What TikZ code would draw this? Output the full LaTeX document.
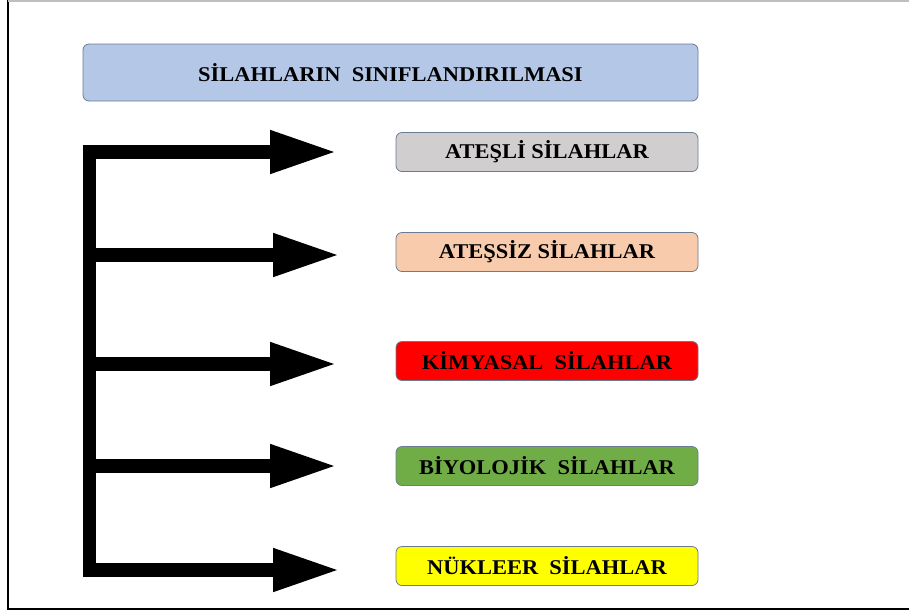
\documentclass[tikz,border=0pt]{standalone}
\usepackage{fontspec}
\setmainfont{Liberation Serif}
\newfontfamily\wfont[FakeStretch=1.07]{Liberation Serif}
\usepackage{tikz}
\usetikzlibrary{arrows.meta,positioning}
\definecolor{titleblue}{HTML}{B4C7E7}
\definecolor{boxline}{HTML}{6B7B92}
\definecolor{firegray}{HTML}{D0CECE}
\definecolor{peach}{HTML}{F8CBAD}
\definecolor{chemred}{HTML}{FF0000}
\definecolor{biogreen}{HTML}{70AD47}
\definecolor{nucyellow}{HTML}{FFFF00}
\newcommand{\Wlabel}[1]{\wfont\fontsize{21}{25}\selectfont\bfseries #1}
\tikzset{
  wbox/.style={rectangle,rounded corners=6pt,draw=boxline,line width=0.8pt,
    minimum width=302pt,minimum height=39pt,inner sep=0pt,text=black},
  titlebox/.style={wbox,fill=titleblue,minimum width=615pt,minimum height=57pt},
  stem/.style={line width=13.5pt,line join=miter,black},
  bighead/.style={-{Triangle[length=67pt,width=40pt]}}
}

\begin{document}
\begin{tikzpicture}[x=1pt,y=-1pt]
\useasboundingbox (0,0) rectangle (909,614);
% frame
\draw[black,line width=2pt] (8,0) -- (8,609) -- (909,609);
\draw[black!25,line width=1.5pt] (8,0.75) -- (909,0.75);
%
\node (title) [titlebox] at (390.5,72.5) {\Wlabel{S\.ILAHLARIN\ \ SINIFLANDIRILMASI}};
\node (w1) [wbox,fill=firegray] at (547,152) {\Wlabel{ATE\c{S}L\.I S\.ILAHLAR}};
\node (w2) [wbox,fill=peach] at (547,252) {\Wlabel{ATE\c{S}S\.IZ S\.ILAHLAR}};
\node (w3) [wbox,fill=chemred] at (547,361) {\Wlabel{K\.IMYASAL\ \ S\.ILAHLAR}};
\node (w4) [wbox,fill=biogreen] at (547,466) {\Wlabel{B\.IYOLOJ\.IK\ \ S\.ILAHLAR}};
\node (w5) [wbox,fill=nucyellow] at (547,566) {\Wlabel{N\"UKLEER\ \ S\.ILAHLAR}};
%
\coordinate (j1) at (89.5,152);
\coordinate (j2) at (89.5,255);
\coordinate (j3) at (89.5,364);
\coordinate (j4) at (89.5,466);
\coordinate (j5) at (89.5,570);
\coordinate (a1) at (337,152);
\coordinate (a2) at (340,255);
\coordinate (a3) at (337,364);
\coordinate (a4) at (337,466);
\coordinate (a5) at (340,570);
%
\draw[stem,{Triangle[length=67pt,width=40pt]}-{Triangle[length=67pt,width=40pt]}] (a1) -- (j1) -- (j5) -- (a5);
\path[stem,bighead] (j2) edge (a2);
\path[stem,bighead] (j3) edge (a3);
\path[stem,bighead] (j4) edge (a4);
\end{tikzpicture}
\end{document}
